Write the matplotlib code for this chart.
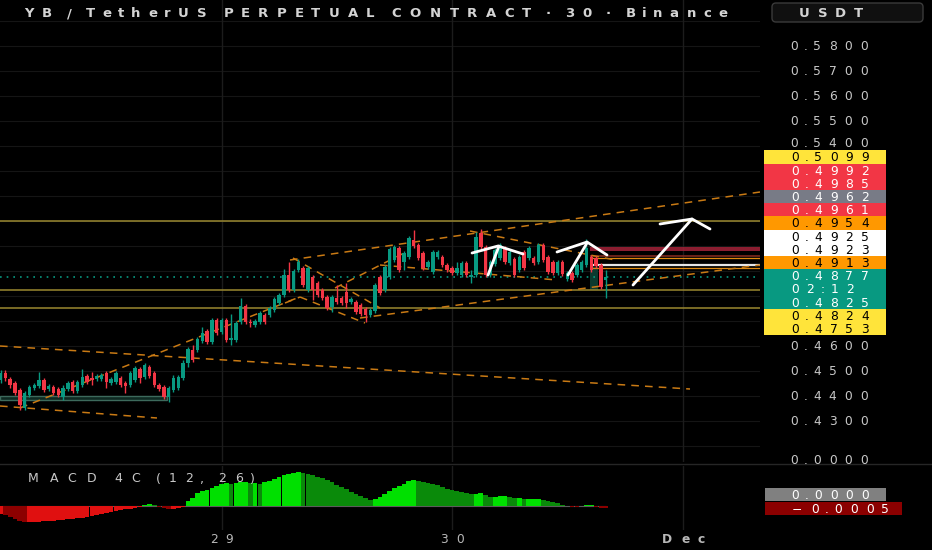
import matplotlib
matplotlib.use("Agg")
import matplotlib.pyplot as plt
import matplotlib.dates as mdates
import numpy as np
import pandas as pd
from matplotlib.patches import Rectangle, FancyBboxPatch
from matplotlib.lines import Line2D
from matplotlib.transforms import IdentityTransform
from matplotlib.ft2font import FT2Font
from matplotlib.font_manager import findfont, FontProperties
try:
    from matplotlib.ft2font import LoadFlags
    NO_SCALE = LoadFlags.NO_SCALE
except Exception:
    NO_SCALE = 1

# ---------------- data ----------------
first_candle = "2025-11-28 01:00"
opens = [0.4464,0.4492,0.4468,0.4452,0.4424,0.4352,0.4404,0.4432,0.4440,0.4464,
         0.4428,0.4436,0.4428,0.4396,0.4428,0.4456,0.4420,0.4444,0.4480,0.4472,
         0.4468,0.4468,0.4492,0.4452,0.4456,0.4472,0.4452,0.4444,0.4464,0.4508,
         0.4476,0.4516,0.4492,0.4444,0.4436,0.4396,0.4424,0.4432,0.4472,0.4532,
         0.4584,0.4584,0.4620,0.4660,0.4616,0.4704,0.4656,0.4704,0.4624,0.4624,
         0.4696,0.4760,0.4696,0.4684,0.4696,0.4724,0.4724,0.4744,0.4772,0.4804,
         0.4884,0.4824,0.4904,0.4912,0.4824,0.4876,0.4852,0.4824,0.4796,0.4756,
         0.4792,0.4792,0.4816,0.4776,0.4776,0.4764,0.4748,0.4724,0.4740,0.4876,
         0.4824,0.4876,0.4944,0.4992,0.4936,0.4956,0.5024,0.5004,0.4972,0.4916,
         0.4896,0.4956,0.4956,0.4924,0.4912,0.4892,0.4884,0.4932,0.4876,0.4884,
         0.5052,0.4996,0.4884,0.4928,0.4952,0.4992,0.4932,0.4948,0.4904,0.4976,
         0.4952,0.4952,0.4936,0.5004,0.4956,0.4936,0.4892,0.4936,0.4868,0.4892,
         0.4884,0.4904,0.4924,0.4956,0.4952,0.4924,0.4864]
highs = [0.4504,0.4504,0.4476,0.4460,0.4432,0.4420,0.4444,0.4452,0.4496,0.4472,
         0.4448,0.4444,0.4436,0.4444,0.4460,0.4464,0.4464,0.4508,0.4488,0.4496,
         0.4488,0.4492,0.4500,0.4476,0.4500,0.4480,0.4460,0.4500,0.4520,0.4516,
         0.4532,0.4524,0.4500,0.4452,0.4444,0.4440,0.4484,0.4484,0.4544,0.4596,
         0.4604,0.4636,0.4676,0.4668,0.4712,0.4712,0.4712,0.4712,0.4728,0.4700,
         0.4792,0.4768,0.4708,0.4708,0.4740,0.4732,0.4760,0.4796,0.4812,0.4908,
         0.4936,0.4908,0.4948,0.4920,0.4920,0.4884,0.4860,0.4832,0.4804,0.4804,
         0.4844,0.4800,0.4852,0.4796,0.4784,0.4772,0.4756,0.4752,0.4852,0.4884,
         0.4924,0.4996,0.5004,0.5000,0.4980,0.5040,0.5064,0.5012,0.4980,0.4944,
         0.4984,0.4984,0.4964,0.4932,0.4920,0.4936,0.4940,0.4940,0.4904,0.5056,
         0.5068,0.5004,0.4944,0.4992,0.5012,0.5000,0.4984,0.4956,0.4964,0.4984,
         0.5000,0.4960,0.5012,0.5012,0.4964,0.4944,0.4944,0.4944,0.4900,0.4900,
         0.4932,0.4944,0.5028,0.4964,0.4960,0.4932,0.4904]
lows = [0.4452,0.4460,0.4432,0.4404,0.4344,0.4344,0.4396,0.4424,0.4432,0.4416,
        0.4420,0.4404,0.4396,0.4384,0.4420,0.4412,0.4412,0.4436,0.4448,0.4444,
        0.4460,0.4460,0.4432,0.4444,0.4448,0.4436,0.4412,0.4436,0.4456,0.4452,
        0.4468,0.4472,0.4436,0.4420,0.4388,0.4376,0.4416,0.4424,0.4464,0.4516,
        0.4536,0.4576,0.4612,0.4608,0.4608,0.4644,0.4648,0.4616,0.4604,0.4616,
        0.4688,0.4688,0.4676,0.4676,0.4688,0.4688,0.4716,0.4736,0.4764,0.4796,
        0.4816,0.4816,0.4896,0.4836,0.4816,0.4784,0.4796,0.4784,0.4744,0.4736,
        0.4768,0.4764,0.4752,0.4768,0.4728,0.4720,0.4696,0.4716,0.4732,0.4804,
        0.4816,0.4868,0.4936,0.4896,0.4904,0.4948,0.4992,0.4944,0.4904,0.4908,
        0.4888,0.4948,0.4916,0.4896,0.4884,0.4884,0.4876,0.4876,0.4852,0.4876,
        0.4988,0.4876,0.4876,0.4920,0.4944,0.4928,0.4924,0.4876,0.4896,0.4904,
        0.4944,0.4924,0.4928,0.4936,0.4888,0.4884,0.4884,0.4880,0.4860,0.4856,
        0.4876,0.4896,0.4916,0.4896,0.4912,0.4828,0.4792]
closes = [0.4492,0.4472,0.4444,0.4412,0.4364,0.4412,0.4436,0.4444,0.4464,0.4424,
          0.4440,0.4412,0.4404,0.4432,0.4452,0.4420,0.4456,0.4476,0.4456,0.4464,
          0.4480,0.4484,0.4456,0.4468,0.4492,0.4444,0.4440,0.4492,0.4512,0.4472,
          0.4524,0.4480,0.4444,0.4428,0.4396,0.4432,0.4472,0.4476,0.4532,0.4588,
          0.4544,0.4628,0.4652,0.4616,0.4704,0.4652,0.4704,0.4624,0.4632,0.4692,
          0.4760,0.4696,0.4692,0.4700,0.4732,0.4696,0.4752,0.4788,0.4804,0.4884,
          0.4824,0.4900,0.4936,0.4844,0.4912,0.4824,0.4804,0.4792,0.4752,0.4796,
          0.4776,0.4772,0.4772,0.4788,0.4736,0.4728,0.4724,0.4744,0.4844,0.4812,
          0.4916,0.4988,0.4996,0.4904,0.4972,0.5032,0.5000,0.4952,0.4912,0.4936,
          0.4976,0.4976,0.4924,0.4904,0.4892,0.4912,0.4932,0.4884,0.4884,0.5036,
          0.4996,0.4884,0.4936,0.4984,0.5004,0.4936,0.4976,0.4884,0.4956,0.4912,
          0.4992,0.4932,0.5004,0.4944,0.4896,0.4892,0.4936,0.4888,0.4892,0.4864,
          0.4924,0.4936,0.4992,0.4904,0.4920,0.4836,0.4877]
# MACD 4C histogram (units of 1e-4)
macd_hist = [-8,-9,-11,-13,-15,-16,-16,-16,-16,-15,
             -15,-15,-14,-14,-13,-13,-12,-12,-11,-10,
             -9,-8,-7,-6,-5,-4,-3,-3,-2,-1,
             1,2,1,-1,-2,-3,-3,-2,-1,5,
             8,13,15,16,18,20,22,23,22,23,
             24,24,23,23,22,24,25,27,29,31,
             32,33,34,33,32,31,29,28,26,24,
             21,19,17,14,12,10,8,6,7,9,
             12,15,18,20,22,25,26,25,24,23,
             22,21,19,17,16,15,14,13,12,12,
             13,11,9,9,10,10,9,8,8,7,
             7,7,7,6,5,4,3,1,0.5,-0.5,
             -1,0.5,1,1,-1,-1.5,-2]

# drawings: (day offset from Nov 29, price)
dash_lines = [(-0.961, 0.4600, 2.0325, 0.4428),
              (-0.961, 0.4360, -0.280, 0.4312),
              (-0.874, 0.4352, 0.3275, 0.4792),
              (0.2972, 0.4944, 2.3362, 0.5216),
              (0.6009, 0.4712, 2.3362, 0.4924),
              (0.3102, 0.4952, 0.6876, 0.4752),
              (0.2755, 0.4772, 0.3406, 0.4796),
              (0.3406, 0.4796, 0.6226, 0.4692),
              (0.4924, 0.4832, 0.8178, 0.4984),
              (0.6876, 0.4924, 1.4555, 0.4864),
              (1.0781, 0.5060, 1.7072, 0.4944)]
white_paths = [[(1.0868, 0.4972), (1.1996, 0.5000), (1.3080, 0.4968)],
               [(1.1562, 0.4884), (1.2039, 0.5000)],
               [(1.4555, 0.4976), (1.5857, 0.5016), (1.6725, 0.4964)],
               [(1.5033, 0.4884), (1.5857, 0.5012)],
               [(1.7852, 0.4844), (2.0412, 0.5108)],
               [(1.9024, 0.5088), (2.0412, 0.5108), (2.1193, 0.5068)]]
full_levels = [0.5099, 0.4825, 0.4753]
last_price = 0.4877
right_levels = [0.4992, 0.4985, 0.4961, 0.4954, 0.4925, 0.4913]
right_level_colors = ["#a8233a", "#a8233a", "#7d2a1e", "#e08a10", "#e6e6e6", "#e08a10"]
right_level_widths = [1.2, 1.2, 1.2, 0.9, 1.6, 0.9]
right_level_start = 1.5987
zone_box = (-0.961, -0.2364, 0.4384, 0.4400)
pos_box = (1.5987, 1.6334, 0.4824, 0.4916)

price_ticks = [0.58, 0.57, 0.56, 0.55, 0.54, 0.46, 0.45, 0.44, 0.43]
day_labels = ["29", "30", "Dec"]
badge_groups = [["0.5099"], ["0.4992", "0.4985"], ["0.4962"], ["0.4961"], ["0.4954"],
                ["0.4925", "0.4923"], ["0.4913"], ["0.4877", "02:12", "0.4825"],
                ["0.4824", "0.4753"]]
badge_fill = ["#ffe43a", "#f23645", "#787b86", "#f23645", "#ff9800",
              "#ffffff", "#ff9800", "#089981", "#ffe43a"]
badge_ink = ["#000000", "#ffffff", "#ffffff", "#ffffff", "#000000",
             "#000000", "#000000", "#ffffff", "#000000"]
title = "YB / TetherUS PERPETUAL CONTRACT \u00b7 30 \u00b7 Binance"

# ---------------- figure ----------------
W, H, DPI = 932, 550, 100
fig = plt.figure(figsize=(W / DPI, H / DPI), dpi=DPI, facecolor="black")
ID = IdentityTransform()

times = pd.date_range(first_candle, periods=len(closes), freq="30min")
t = mdates.date2num(times.to_pydatetime())
day0 = mdates.date2num(pd.Timestamp("2025-11-29").to_pydatetime())
xlim = (day0 - 0.961, day0 + 2.3362)

ax = fig.add_axes([0, 88 / H, 760 / W, 462 / H])
ax_m = fig.add_axes([0, 20 / H, 760 / W, 64 / H])
for a in (ax, ax_m):
    a.set_facecolor("black")
    a.set_xlim(*xlim)
    for s in a.spines.values():
        s.set_visible(False)
    a.set_xticks([])
    a.set_yticks([])
ax.set_ylim(0.4136, 0.5984)
ax_m.set_ylim(-24, 40)

# grid
for lv in np.arange(0.42, 0.595, 0.01):
    ax.axhline(lv, color="#151515", lw=0.8, zorder=0)
for d in range(3):
    ax.axvline(day0 + d, color="#1c1c1c", lw=1, zorder=0)
    ax_m.axvline(day0 + d, color="#1c1c1c", lw=1, zorder=0)

# zone box bottom-left
ax.add_patch(Rectangle((day0 + zone_box[0], zone_box[2]), zone_box[1] - zone_box[0],
                       zone_box[3] - zone_box[2], facecolor="#0e2a22",
                       edgecolor="#3d6a5c", lw=1.0, zorder=1))
ax.add_patch(Rectangle((day0 + pos_box[0], pos_box[2]), pos_box[1] - pos_box[0],
                       pos_box[3] - pos_box[2], facecolor="#0c3a2f",
                       edgecolor="none", zorder=1))

# horizontal levels
for lv in full_levels:
    ax.axhline(lv, color="#9a8830", lw=1.1, zorder=2)
ax.axhline(last_price, color="#089981", lw=1.2, ls=(0, (1, 3)), zorder=2)
for lv, c, w in zip(right_levels, right_level_colors, right_level_widths):
    ax.hlines(lv, day0 + right_level_start, xlim[1], color=c, lw=w, zorder=2)

# dashed trend lines
for (t0, p0, t1, p1) in dash_lines:
    ax.plot([day0 + t0, day0 + t1], [p0, p1], color="#c97a14", lw=1.1,
            ls=(0, (5, 4)), zorder=3)

# candles
o = np.array(opens); h = np.array(highs); l = np.array(lows); c = np.array(closes)
up = c >= o
col = np.where(up, "#089981", "#f23645")
ax.vlines(t, l, h, colors=col, lw=1.0, zorder=4)
body = np.maximum(np.abs(c - o), 0.0003)
ax.bar(t, body, bottom=np.minimum(o, c), width=0.72 / 48, color=col, lw=0, zorder=5)

# white drawings
for path in white_paths:
    xs = [day0 + p[0] for p in path]
    ys = [p[1] for p in path]
    ax.plot(xs, ys, color="white", lw=2.0, solid_capstyle="round", zorder=6)

# MACD histogram
hv = np.array(macd_hist, dtype=float)
prev = np.concatenate([[hv[0]], hv[:-1]])
rising = hv >= prev
mcol = np.where(hv >= 0, np.where(rising, "#00e000", "#0a8a0a"),
                np.where(rising, "#e01010", "#8c0000"))
ax_m.bar(t, hv, width=0.98 / 48, color=mcol, lw=0, zorder=3)
ax_m.hlines(0, t[0], t[-1], color="#5c5c5c", lw=0.8, zorder=2)

# pane separator
fig.add_artist(Line2D([0, W], [H - 464, H - 464], transform=ID, color="#262626", lw=1))

# ---------------- stretched text helper ----------------
_font_cache = {}
def advances(s, size, weight):
    if weight not in _font_cache:
        prop = FontProperties(family="DejaVu Sans", weight=weight)
        _font_cache[weight] = FT2Font(findfont(prop))
    f = _font_cache[weight]
    upem = f.units_per_EM
    px = size * DPI / 72.0
    out = []
    for ch in s:
        g = f.load_char(ord(ch), flags=NO_SCALE)
        out.append(g.horiAdvance / upem * px)
    return out

def wtext(x, y_top, s, size=8.8, k=2.0, width=None, color="#d1d4dc",
          weight="normal", ha="left", z=20):
    adv = advances(s, size, weight)
    tot = sum(adv)
    if width is not None:
        k = width / tot
    span = tot * k
    x0 = x if ha == "left" else (x - span / 2 if ha == "center" else x - span)
    yb = (H - y_top) - 0.36 * size * DPI / 72
    for ch, a in zip(s, adv):
        if ch != " ":
            fig.text((x0 + a * k / 2) / W, yb / H, ch, ha="center", va="baseline",
                     fontsize=size, color=color, weight=weight,
                     family="DejaVu Sans", zorder=z)
        x0 += a * k

def ypix(p):
    return H - ax.transData.transform((xlim[0], p))[1]

def xpix(d):
    return ax.transData.transform((day0 + d, 0.5))[0]

# title
wtext(20, 12.5, title, size=9.5, width=711, color="#d4d4d4", weight="bold")

# USDT box
fig.add_artist(FancyBboxPatch((772, H - 22), 151, 19,
                              boxstyle="round,pad=0,rounding_size=4", transform=ID,
                              facecolor="#101010", edgecolor="#3a3a3a", lw=1))
wtext(795, 12.5, "USDT", size=9.5, width=71, color="#d4d4d4", weight="bold")

# badges
line_h = 13.2
badge_top = 150.4
cur = badge_top
for grp, fc, ink in zip(badge_groups, badge_fill, badge_ink):
    hgt = line_h * len(grp)
    fig.add_artist(Rectangle((764, H - cur - hgt), 122, hgt, transform=ID,
                             facecolor=fc, edgecolor="none", zorder=15))
    for j, s in enumerate(grp):
        wtext(787, cur + (j + 0.5) * line_h, s, color=ink)
    cur += hgt
badge_bottom = cur

# price ticks (kept clear of the badge stack)
for p in price_ticks:
    yp = ypix(p)
    if yp < badge_top:
        yp = min(yp, badge_top - 7.5)
    wtext(786, yp, f"{p:.4f}", color="#c8c8c8", z=12)
wtext(786, 460, "0.0000", color="#c8c8c8", z=12)

# MACD label and badges
wtext(22, 478, "MACD 4C (12, 26)", size=9.0, width=236, color="#c8c8c8")
fig.add_artist(Rectangle((765, H - 501), 121, 13, transform=ID,
                         facecolor="#808080", edgecolor="none", zorder=15))
wtext(787, 494.5, "0.0000", color="#ffffff")
fig.add_artist(Rectangle((765, H - 515), 137, 13, transform=ID,
                         facecolor="#8b0000", edgecolor="none", zorder=15))
wtext(787, 508.5, "\u22120.0005", color="#ffffff")

# day labels
for d, lab in enumerate(day_labels):
    wtext(xpix(d), 539, lab, color="#b8b8b8", ha="center",
          weight="bold" if lab == "Dec" else "normal")

fig.savefig("out.png", dpi=DPI, facecolor="black")
